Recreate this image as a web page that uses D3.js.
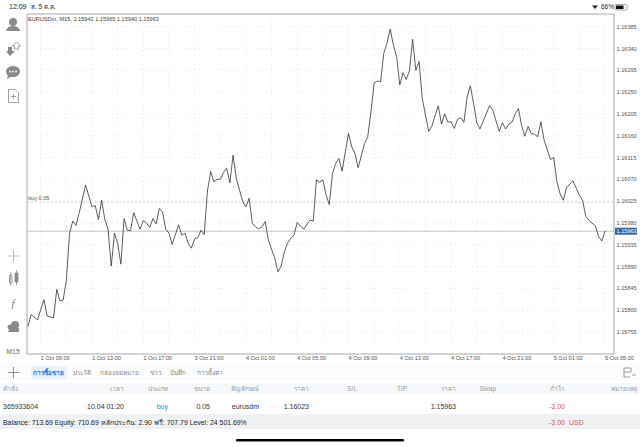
<!DOCTYPE html>
<html>
<head>
<meta charset="utf-8">
<script src="https://cdn.jsdelivr.net/npm/d3@7"></script>
<style>
html, body { margin: 0; padding: 0; background: #fff; overflow: hidden; }
text { font-family: "Liberation Sans", "Noto Sans", sans-serif; }
</style>
</head>
<body>
<div id="chart"></div>
<script>
// Bar number (M15) and close price.
var bars = [0,1,3,5,6,8,9,10,11,12,13,14,15,16,18,20,21,22,23,24,25,26,27,28,29,30,31,32,33,35,36,37,38,39,40,41,42,43,44,45,47,48,49,50,51,52,53,54,55,56,57,58,59,60,61,62,63,64,65,66,67,68,69,70,71,72,73,74,75,77,78,79,80,81,82,83,84,86,88,89,90,91,92,93,94,95,96,97,98,100,101,102,103,105,106,107,108,109,110,111,112,113,114,115,116,117,118,119,120,121,122,123,125,126,128,129,130,131,132,133,134,135,136,137,138,139,140,141,144,145,147,148,149,150,151,152,153,154,155,156,157,158,159,160,161,163,164,165,166,167,168,170,171,172,173,174,175,177,178,179,180];
var closes = [1.15766,1.15791,1.15780,1.15822,1.15788,1.15784,1.15843,1.15819,1.15821,1.15862,1.15959,1.15984,1.15975,1.16001,1.16058,1.16013,1.16016,1.15987,1.16027,1.15987,1.15967,1.15891,1.15959,1.15938,1.15895,1.15989,1.15965,1.15964,1.16001,1.15967,1.15985,1.15980,1.15971,1.15989,1.15978,1.16010,1.16003,1.15967,1.15959,1.15936,1.15976,1.15955,1.15959,1.15938,1.15928,1.15947,1.15950,1.15965,1.15956,1.16046,1.16086,1.16065,1.16070,1.16070,1.16084,1.16093,1.16063,1.16120,1.16072,1.16048,1.16024,1.16013,1.16031,1.15979,1.15972,1.15968,1.15972,1.15983,1.15945,1.15907,1.15879,1.15891,1.15921,1.15939,1.15948,1.15955,1.15981,1.15967,1.15986,1.15984,1.16069,1.16064,1.16069,1.16038,1.16018,1.16082,1.16103,1.16113,1.16087,1.16165,1.16137,1.16124,1.16094,1.16144,1.16158,1.16209,1.16269,1.16273,1.16271,1.16330,1.16351,1.16380,1.16347,1.16323,1.16265,1.16290,1.16276,1.16294,1.16359,1.16295,1.16313,1.16237,1.16169,1.16180,1.16222,1.16184,1.16205,1.16188,1.16189,1.16175,1.16194,1.16197,1.16188,1.16240,1.16263,1.16227,1.16187,1.16174,1.16222,1.16213,1.16169,1.16187,1.16174,1.16184,1.16188,1.16205,1.16216,1.16181,1.16159,1.16179,1.16165,1.16163,1.16158,1.16189,1.16151,1.16111,1.16115,1.16065,1.16040,1.16027,1.16053,1.16067,1.16052,1.16037,1.16027,1.15994,1.15985,1.15974,1.15952,1.15943,1.15963];

var priceTicks = [1.16385,1.16340,1.16295,1.16250,1.16205,1.16160,1.16115,1.16070,1.16025,1.15980,1.15935,1.15890,1.15845,1.15800,1.15755];
var timeBars = [4,20,36,52,68,84,100,116,132,148,164,180];
var timeLabels = ["1 Oct 09:00","1 Oct 13:00","1 Oct 17:00","3 Oct 21:00","4 Oct 01:00","4 Oct 05:00","4 Oct 09:00","4 Oct 13:00","4 Oct 17:00","4 Oct 21:00","5 Oct 01:00","5 Oct 05:00"];
var gridBars = [4,12,20,28,36,44,52,60,68,76,84,92,100,108,116,124,132,140,148,156,164,172,180];
var bidPrice = 1.15963;
var orderPrice = 1.16023;

var tabs = ["การซื้อขาย","ประวัติ","กล่องจดหมาย","ข่าว","บันทึก","การตั้งค่า"];
var tabX = [33,73,100,150,170,197];
var headers = ["คำสั่ง","เวลา","ประเภท","ขนาด","สัญลักษณ์","ราคา","S/L","T/P","ราคา","Swap","กำไร","หมายเหตุ"];
var headerX = [3,124,168,210,259,309,357,407,456,496,564,637];
var headerAnchor = ["start","end","end","end","end","end","end","end","end","end","end","end"];

var width = 640, height = 447;
var left = 27, right = 614, top_ = 14, bottom = 354;

var svg = d3.select("#chart").append("svg")
  .attr("width", width)
  .attr("height", height)
  .style("display", "block");

svg.append("rect").attr("width", width).attr("height", height).attr("fill", "#fff");

var x = d3.scaleLinear().domain([0, 180]).range([27.9, 605]);
var y = d3.scaleLinear().domain([1.15755, 1.16385]).range([332, 26.7]);

// grid
svg.append("g").selectAll("line").data(priceTicks).enter().append("line")
  .attr("x1", left).attr("x2", right)
  .attr("y1", function(d) { return y(d); })
  .attr("y2", function(d) { return y(d); })
  .attr("stroke", "#e4e4e4").attr("stroke-width", 0.7).attr("stroke-dasharray", "1.5,3");
svg.append("g").selectAll("line").data(gridBars).enter().append("line")
  .attr("y1", top_).attr("y2", bottom)
  .attr("x1", function(d) { return x(d); })
  .attr("x2", function(d) { return x(d); })
  .attr("stroke", "#e4e4e4").attr("stroke-width", 0.7).attr("stroke-dasharray", "1.5,3");

// frame
svg.append("path")
  .attr("d", "M" + left + "," + bottom + "V" + top_ + "H" + right + "V" + bottom + "H" + left)
  .attr("fill", "none").attr("stroke", "#aaa").attr("stroke-width", 1);

// bid and order lines
svg.append("line").attr("x1", left).attr("x2", right)
  .attr("y1", y(bidPrice)).attr("y2", y(bidPrice))
  .attr("stroke", "#b4b4b4").attr("stroke-width", 0.8);
svg.append("line").attr("x1", left).attr("x2", right)
  .attr("y1", y(orderPrice)).attr("y2", y(orderPrice))
  .attr("stroke", "#b9c2b0").attr("stroke-width", 0.7).attr("stroke-dasharray", "2,2");
svg.append("text").attr("x", 28).attr("y", y(orderPrice) - 2)
  .attr("font-size", 5.6).attr("fill", "#555").text("buy 0.05");

// price line
var line = d3.line()
  .x(function(d, i) { return x(bars[i]); })
  .y(function(d) { return y(d); });
svg.append("path").datum(closes)
  .attr("d", line)
  .attr("fill", "none").attr("stroke", "#333").attr("stroke-width", 0.8)
  .attr("stroke-linejoin", "round");

// price labels
svg.append("g").selectAll("text").data(priceTicks).enter().append("text")
  .attr("x", 616.5)
  .attr("y", function(d) { return y(d) + 2; })
  .attr("font-size", 5.6).attr("fill", "#555")
  .text(function(d) { return d.toFixed(5); });
svg.append("rect").attr("x", 615).attr("y", y(bidPrice) - 3.5).attr("width", 22).attr("height", 7)
  .attr("fill", "#2f66a3");
svg.append("text").attr("x", 616.5).attr("y", y(bidPrice) + 2)
  .attr("font-size", 5.6).attr("fill", "#fff").text(bidPrice.toFixed(5));

// time labels
svg.append("g").selectAll("text").data(timeBars).enter().append("text")
  .attr("x", function(d) { return x(d); })
  .attr("y", 359.5)
  .attr("font-size", 5.6).attr("fill", "#555")
  .text(function(d, i) { return timeLabels[i]; });

svg.append("text").attr("x", 28).attr("y", 20.5)
  .attr("font-size", 5.6).attr("fill", "#444")
  .text("EURUSDm, M15, 1.15942 1.15965 1.15940 1.15963");

// status bar
svg.append("text").attr("x", 9).attr("y", 9).attr("font-size", 7).attr("fill", "#222").text("12:09");
svg.append("text").attr("x", 31).attr("y", 9).attr("font-size", 6.5).attr("fill", "#222").text("ส. 5 ต.ค.");
svg.append("text").attr("x", 601).attr("y", 9).attr("font-size", 6.5).attr("fill", "#222").text("66%");
svg.append("path").attr("d", "M592,5.5 L598,5.5 L595,9 Z").attr("fill", "#222");
svg.append("rect").attr("x", 615).attr("y", 4.5).attr("width", 12).attr("height", 5.5).attr("rx", 1)
  .attr("fill", "none").attr("stroke", "#555").attr("stroke-width", 0.5);
svg.append("rect").attr("x", 616).attr("y", 5.5).attr("width", 7.5).attr("height", 3.5).attr("fill", "#111");

// side icons
var icon = svg.append("g").attr("fill", "#8a8a8a").attr("stroke", "none");
icon.append("circle").attr("cx", 13).attr("cy", 22).attr("r", 4);
icon.append("path").attr("d", "M6,31 Q7,26 13,26 Q19,26 20,31 Z");
icon.append("path").attr("d", "M8,47 H12 V51 H15 L10,56 L6,51 H8 Z");
svg.append("path").attr("d", "M14.5,49 V46 H12.5 L16.5,42 L20.5,46 H18.5 V49 Z")
  .attr("fill", "none").attr("stroke", "#8a8a8a").attr("stroke-width", 0.8);
icon.append("ellipse").attr("cx", 13).attr("cy", 71.5).attr("rx", 7).attr("ry", 5.5);
icon.append("path").attr("d", "M8,75 L7,79 L12,76 Z");
[10, 13, 16].forEach(function(cx) {
  svg.append("circle").attr("cx", cx).attr("cy", 71.5).attr("r", 0.9).attr("fill", "#fff");
});
svg.append("path").attr("d", "M8.5,89.5 H15 L18.5,93 V102.5 H8.5 Z M11,96.5 H16 M13.5,94 V99")
  .attr("fill", "none").attr("stroke", "#8a8a8a").attr("stroke-width", 0.8);
svg.append("path").attr("d", "M13.5,250 V262 M8,256 H19")
  .attr("fill", "none").attr("stroke", "#aaa").attr("stroke-width", 0.8);
svg.append("path").attr("d", "M12,275 H9.5 V283 H12 Z M10.7,272 V286").attr("fill", "none").attr("stroke", "#8a8a8a").attr("stroke-width", 0.8);
svg.append("path").attr("d", "M15,273 H18 V282 H15 Z M16.5,270 V285").attr("fill", "#8a8a8a").attr("stroke", "#8a8a8a").attr("stroke-width", 0.8);
svg.append("text").attr("x", 13).attr("y", 307).attr("text-anchor", "middle").attr("font-size", 11)
  .attr("font-style", "italic").style("font-family", "Liberation Serif").attr("fill", "#777").text("f");
icon.append("circle").attr("cx", 15).attr("cy", 325).attr("r", 4);
icon.append("path").attr("d", "M8,332 Q10,326 15,328 Q20,326 19,332 Z");
icon.append("circle").attr("cx", 10).attr("cy", 327).attr("r", 2.5);
svg.append("text").attr("x", 13).attr("y", 354).attr("text-anchor", "middle").attr("font-size", 7)
  .attr("font-weight", "bold").attr("fill", "#999").text("M15");

// tab bar
svg.append("rect").attr("x", 0).attr("y", 363).attr("width", width).attr("height", 18).attr("fill", "#fcfcfc");
svg.append("path").attr("d", "M13.5,367 V378 M8,372.5 H19").attr("stroke", "#777").attr("stroke-width", 0.8);
svg.append("rect").attr("x", 31).attr("y", 366).attr("width", 36).attr("height", 13).attr("rx", 1).attr("fill", "#e8f1fb");
svg.append("g").selectAll("text").data(tabs).enter().append("text")
  .attr("x", function(d, i) { return tabX[i]; })
  .attr("y", 375)
  .attr("font-size", 6.5)
  .attr("font-weight", function(d, i) { return i === 0 ? "bold" : "normal"; })
  .attr("fill", function(d, i) { return i === 0 ? "#2a7fd5" : "#8a8a8a"; })
  .text(function(d) { return d; });
svg.append("path").attr("d", "M624,368 H631 V372 H624 Z M624,372 V377 H630 M632,375 H636")
  .attr("fill", "none").attr("stroke", "#777").attr("stroke-width", 0.7);

// table
svg.append("rect").attr("x", 0).attr("y", 383).attr("width", width).attr("height", 11).attr("fill", "#f6f8fb");
svg.append("g").selectAll("text").data(headers).enter().append("text")
  .attr("x", function(d, i) { return headerX[i]; })
  .attr("y", 391)
  .attr("text-anchor", function(d, i) { return headerAnchor[i]; })
  .attr("font-size", 6.5).attr("fill", "#999")
  .text(function(d) { return d; });

var rowCells = ["365933604","10.04 01:20","buy","0.05","eurusdm","1.16023","1.15963","-3.00"];
var rowX = [3,124,168,210,259,309,456,565];
var rowColor = ["#333","#333","#2a7fd5","#333","#333","#333","#333","#d9534f"];
svg.append("g").selectAll("text").data(rowCells).enter().append("text")
  .attr("x", function(d, i) { return rowX[i]; })
  .attr("y", 408.5)
  .attr("text-anchor", function(d, i) { return i === 0 ? "start" : "end"; })
  .attr("font-size", 7).attr("fill", function(d, i) { return rowColor[i]; })
  .text(function(d) { return d; });

svg.append("rect").attr("x", 0).attr("y", 414).attr("width", width).attr("height", 15).attr("fill", "#f0f1f3");
svg.append("text").attr("x", 3).attr("y", 424.5).attr("font-size", 6.9).attr("fill", "#222")
  .text("Balance: 713.69 Equity: 710.69 หลักประกัน: 2.90 ฟรี: 707.79 Level: 24 501.69%");
svg.append("text").attr("x", 549).attr("y", 424.5).attr("font-size", 7).attr("fill", "#d9534f").text("-3.00");
svg.append("text").attr("x", 569).attr("y", 424.5).attr("font-size", 7).attr("fill", "#d9534f").text("USD");

// home bar
svg.append("rect").attr("x", 236).attr("y", 439).attr("width", 168).attr("height", 2.5).attr("rx", 1.2).attr("fill", "#000");
</script>
</body>
</html>
